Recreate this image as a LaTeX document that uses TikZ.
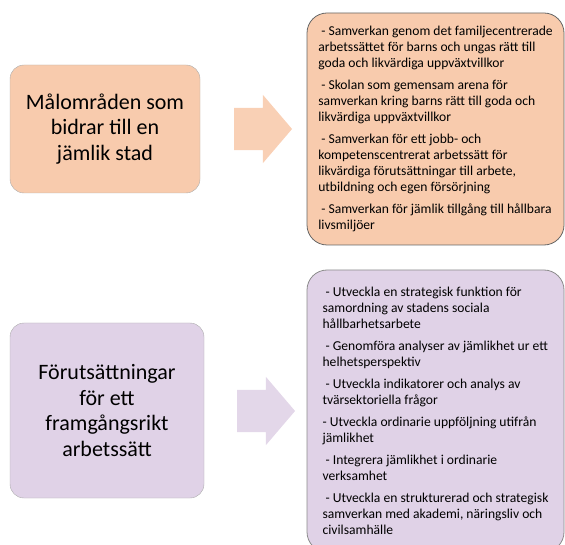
\documentclass[tikz,border=0pt]{standalone}
\usepackage{fontspec}
\setmainfont{Carlito}
\usetikzlibrary{shapes.arrows}
\definecolor{salmon}{HTML}{F8CBAD}
\definecolor{lilac}{HTML}{E0D2E7}
\newcommand{\lead}{\hspace*{3pt}}
\begin{document}
\begin{tikzpicture}[x=1pt,y=-1pt,
  goal/.style={rounded corners=14pt, draw=gray!65, fill=#1, align=center,
    font=\fontsize{22}{25.5}\selectfont, inner sep=0pt},
  list/.style={rounded corners=20pt, draw=#1, line width=0.8pt,
    align=left, font=\fontsize{13.6}{16}\selectfont, inner xsep=2pt, minimum width=257pt},
  flow/.style={single arrow, fill=#1, minimum height=58pt, minimum width=68pt,
    single arrow head extend=13pt, single arrow tip angle=99, inner xsep=0pt, inner ysep=21pt}]
  \useasboundingbox (0,0) rectangle (565,545);
  % upper row
  \node[goal=salmon, minimum width=190pt, minimum height=128pt] (mal) at (105,129)
    {Målområden som\\bidrar till en\\jämlik stad};
  \node[flow=salmon!90] (malpil) at (254,129) {};
  \node[list=black!60, fill=salmon, minimum height=232pt] (mallista) at (435.5,129) {%
    \lead- Samverkan genom det familjecentrerade\\
    arbetssättet för barns och ungas rätt till\\
    goda och likvärdiga uppväxtvillkor\\[6pt]
    \lead- Skolan som gemensam arena för\\
    samverkan kring barns rätt till goda och\\
    likvärdiga uppväxtvillkor\\[6pt]
    \lead- Samverkan för ett jobb- och\\
    kompetenscentrerat arbetssätt för\\
    likvärdiga förutsättningar till arbete,\\
    utbildning och egen försörjning\\[6pt]
    \lead- Samverkan för jämlik tillgång till hållbara\\
    livsmiljöer};
  % lower row
  \node[goal=lilac, minimum width=194pt, minimum height=175pt] (fut) at (107,410.5)
    {Förutsättningar\\för ett\\framgångsrikt\\arbetssätt};
  \node[flow=lilac!90] (futpil) at (257,411) {};
  \node[list=black!45, fill=lilac, minimum height=282pt] (futlista) at (435.5,411) {%
    \lead- Utveckla en strategisk funktion för\\
    samordning av stadens sociala\\
    hållbarhetsarbete\\[6pt]
    \lead- Genomföra analyser av jämlikhet ur ett\\
    helhetsperspektiv\\[6pt]
    \lead- Utveckla indikatorer och analys av\\
    tvärsektoriella frågor\\[6pt]
    - Utveckla ordinarie uppföljning utifrån\\
    jämlikhet\\[6pt]
    \lead- Integrera jämlikhet i ordinarie\\
    verksamhet\\[6pt]
    \lead- Utveckla en strukturerad och strategisk\\
    samverkan med akademi, näringsliv och\\
    civilsamhälle};
\end{tikzpicture}
\end{document}
